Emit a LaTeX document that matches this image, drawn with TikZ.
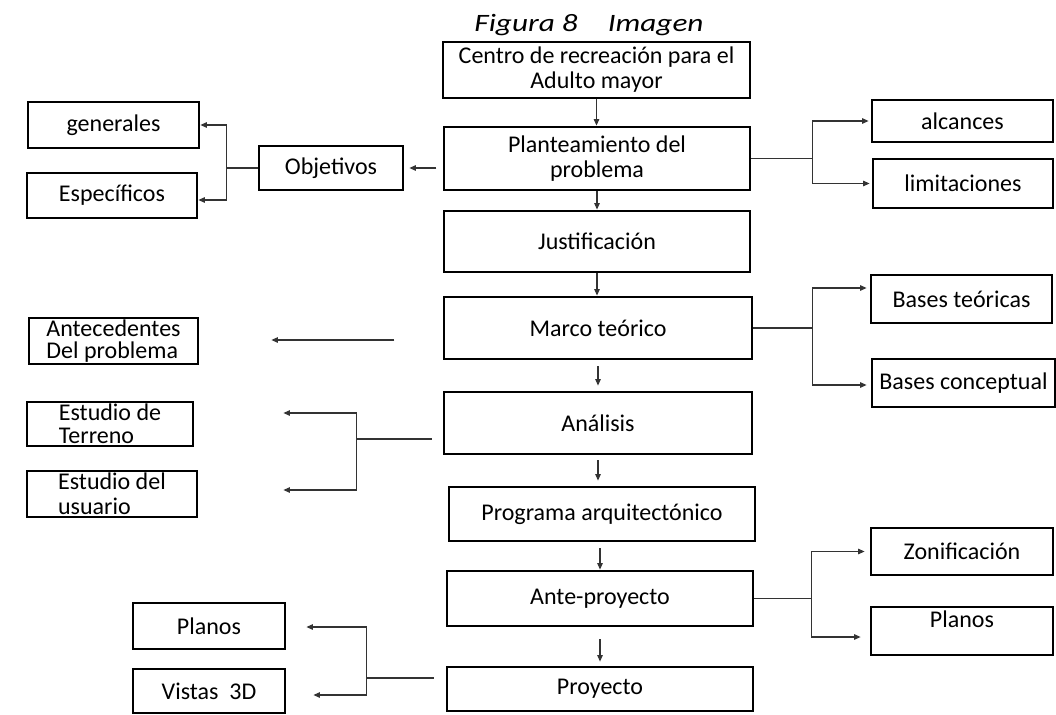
\documentclass[tikz,border=0pt]{standalone}
\usepackage{fontspec}
\setmainfont{Carlito}
\usetikzlibrary{arrows.meta,calc}
\begin{document}
\begin{tikzpicture}[x=1pt,y=-1pt,
  font=\fontsize{24pt}{25pt}\selectfont,
  box/.style={draw, line width=2.8pt, inner sep=2pt, align=center},
  wh/.style 2 args={minimum width=#1pt, minimum height=#2pt},
  con/.style={draw=black!80, line width=1.1pt},
  arr/.style={con, -{Triangle[length=6.5pt,width=5.5pt]}}]
\useasboundingbox (0,0) rectangle (1056,714);

% title
\node[font=\fontsize{25pt}{28pt}\selectfont\itshape, anchor=base] (title) at (589,32) {\scalebox{1.25}[1]{Figura 8\hspace{24pt}Imagen}};

% central column
\node[box, wh={307}{56}] (centro) at (596.5,70) {Centro de recreación para el\\Adulto mayor};
\node[box, wh={306}{63}] (plan) at (597,158.5) {Planteamiento del\\problema};
\node[box, wh={306}{61}] (just) at (597,241.5) {Justificación};
\node[box, wh={308}{62}] (marco) at (598,328) {Marco teórico};
\node[box, wh={308}{62}] (anal) at (598,423) {Análisis};
\node[box, wh={306}{54}] (prog) at (602,514) {Programa arquitectónico};
\node[box, wh={306}{55}] (ante) at (600,598.5) {Ante-proyecto};
\node[box, wh={306}{44}] (proy) at (600,689) {Proyecto};

% left side
\node[box, wh={144}{44}] (obj) at (331,168) {Objetivos};
\node[box, wh={171}{46}] (gen) at (113.5,125) {generales};
\node[box, wh={170}{45}] (esp) at (112,195.5) {Específicos};
\node[box, wh={169}{46}, align=left, inner ysep=0pt, font=\fontsize{24pt}{22pt}\selectfont] (antec) at (113.5,341) {Antecedentes\\Del problema};
\node[box, wh={166}{44}, align=left, inner ysep=0pt, font=\fontsize{24pt}{23pt}\selectfont] (terr) at (110,424) {Estudio de\\Terreno};
\node[box, wh={170}{46}, align=left, inner ysep=0pt] (usu) at (112,494) {Estudio del\\usuario};
\node[box, wh={152}{46}] (planl) at (209,626) {Planos};
\node[box, wh={152}{44}] (vist) at (209,691) {Vistas\ \ 3D};

% right side
\node[box, wh={181}{42}] (alc) at (962.5,121) {alcances};
\node[box, wh={180}{49}] (lim) at (963,183.5) {limitaciones};
\node[box, wh={181}{48}] (bt) at (961.5,299) {Bases teóricas};
\node[box, wh={183}{48}, inner xsep=0pt] (bc) at (963.5,383) {Bases conceptual};
\node[box, wh={182}{47}] (zon) at (962,551.5) {Zonificación};
\node[box, wh={182}{48}, text height=16pt, text depth=24pt, inner ysep=4pt] (planr) at (962,631) {Planos};

% central arrows
\draw[arr] (centro.south) -- (centro.south |- plan.north);
\draw[arr] (plan.south) -- (plan.south |- just.north);
\draw[arr] (just.south) -- (just.south |- marco.north);
\draw[arr, shorten <=6pt, shorten >=5pt] (marco.south) -- (marco.south |- anal.north);
\draw[arr, shorten <=5pt, shorten >=5pt] (anal.south) -- (anal.south |- prog.north);
\draw[arr, shorten <=6pt] (ante.north |- prog.south) -- (ante.north);
\draw[arr, shorten <=12pt, shorten >=4pt] (ante.south) -- (proy.north);

% objetivos
\draw[arr] ($(obj.east)+(32,0)$) -- ([xshift=5pt]obj.east);
\coordinate (oj) at ($(obj.west)+(-31,0)$);
\draw[con] (obj.west) -- (oj);
\draw[arr] (oj) |- (gen.east);
\draw[arr] (oj) |- ([yshift=-4.5pt]esp.east);

% planteamiento right
\coordinate (pj) at ($(plan.east)+(61,0)$);
\draw[con] (plan.east) -- (pj);
\draw[arr] (pj) |- ([xshift=-2pt]alc.west);
\draw[arr] (pj) |- ([xshift=-2pt]lim.west);

% marco right
\coordinate (mj) at ($(marco.east)+(59,0)$);
\draw[con] (marco.east) -- (mj);
\draw[arr] (mj) |- ([xshift=-3pt,yshift=11pt]bt.west);
\draw[arr] (mj) |- ([xshift=-4pt,yshift=-2pt]bc.west);

% ante-proyecto right
\coordinate (aj) at ($(ante.east)+(57,0)$);
\draw[con] (ante.east) -- (aj);
\draw[arr] (aj) |- ([xshift=-5pt]zon.west);
\draw[arr] (aj) |- ([xshift=-9pt,yshift=-6pt]planr.west);

% antecedentes
\coordinate (ms) at ($(antec.east)+(195,-1)$);
\draw[arr] (ms) -- ($(antec.east)+(72,-1)$);

% analisis left
\coordinate (an) at ($(anal.west)+(-11,16)$);
\coordinate (anj) at ($(an)+(-75,0)$);
\draw[con] (an) -- (anj);
\draw[arr] (anj) |- ($(terr.east)+(89,-11)$);
\draw[arr] (anj) |- ($(usu.east)+(85,-4)$);

% proyecto left
\coordinate (pr) at ($(proy.west)+(-12,-11)$);
\coordinate (prj) at ($(pr)+(-67,0)$);
\draw[con] (pr) -- (prj);
\draw[arr] (prj) |- ($(planl.east)+(20,1)$);
\draw[arr] (prj) |- ($(vist.east)+(27,4)$);
\end{tikzpicture}
\end{document}
